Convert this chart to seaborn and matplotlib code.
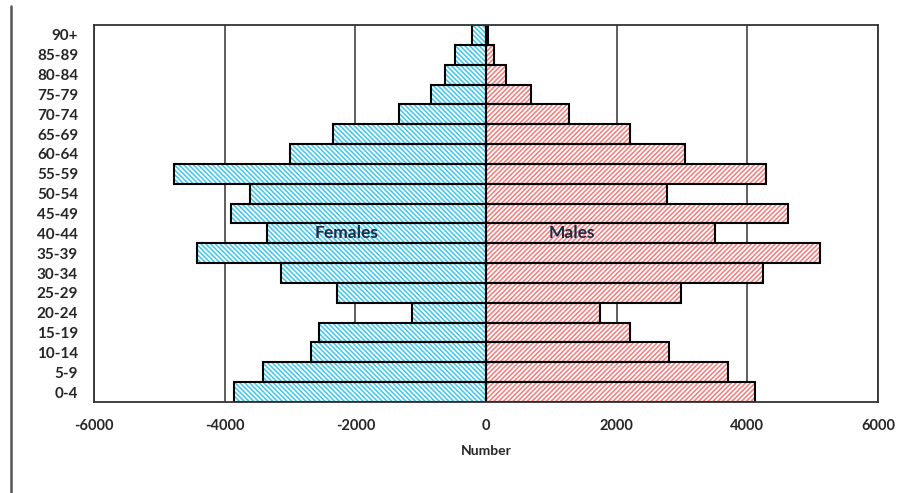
import pandas as pd
import numpy as np
import matplotlib.pyplot as plt
import seaborn as sns

ages = ["0-4", "5-9", "10-14", "15-19", "20-24", "25-29", "30-34", "35-39",
        "40-44", "45-49", "50-54", "55-59", "60-64", "65-69", "70-74",
        "75-79", "80-84", "85-89", "90+"]
females = [3856, 3407, 2673, 2561, 1128, 2281, 3142, 4427, 3346, 3896,
           3612, 4778, 2994, 2342, 1333, 849, 635, 471, 211]
males = [4111, 3698, 2796, 2210, 1746, 2984, 4233, 5115, 3499, 4625,
         2778, 4292, 3043, 2202, 1274, 683, 306, 127, 30]
xticks = [-6000, -4000, -2000, 0, 2000, 4000, 6000]

df_f = pd.DataFrame({"age": ages, "count": [-v for v in females]})
df_m = pd.DataFrame({"age": ages, "count": males})
order = ages[::-1]

sns.set_style("white")
plt.rcParams["font.family"] = ["Lato", "DejaVu Sans"]
plt.rcParams["hatch.linewidth"] = 1.1

fig = plt.figure(figsize=(8.98, 4.93), dpi=100)
ax = fig.add_axes([0.1047, 0.1846, 0.8730, 0.7647])

# hatch layers (edge colour sets hatch colour, edge itself hidden)
sns.barplot(data=df_f, x="count", y="age", order=order, orient="h", ax=ax,
            color="white", saturation=1, width=1, errorbar=None,
            edgecolor="#3cc8f0", linewidth=0, hatch="\\" * 7)
sns.barplot(data=df_m, x="count", y="age", order=order, orient="h", ax=ax,
            color="white", saturation=1, width=1, errorbar=None,
            edgecolor="#f77b7b", linewidth=0, hatch="/" * 7)
# black outlines
for d in (df_f, df_m):
    sns.barplot(data=d, x="count", y="age", order=order, orient="h", ax=ax,
                color="black", fill=False, saturation=1, width=1,
                errorbar=None, linewidth=1.5)

ax.set_xlim(-6000, 6000)
ax.set_xticks(xticks)
ax.set_xticklabels([str(t) for t in xticks])
ax.set_axisbelow(True)
ax.grid(axis="x", color="#333333", linewidth=1.1)
ax.grid(axis="y", visible=False)
for s in ax.spines.values():
    s.set_visible(True)
    s.set_color("#333333")
    s.set_linewidth(1.3)
ax.tick_params(axis="x", direction="out", length=4, width=1, color="#333333",
               labelsize=10.5, pad=8)
ax.tick_params(axis="y", length=0, labelsize=11, pad=11.5)
for lab in ax.get_xticklabels() + ax.get_yticklabels():
    lab.set_fontweight("bold")
ax.set_xlabel("Number", fontsize=10, fontweight="bold", labelpad=9)
ax.set_ylabel("")

ax.text(-2130, order.index("40-44"), "Females", ha="center", va="center",
        fontsize=12.5, fontweight="bold", color="#1f2a44")
ax.text(1320, order.index("40-44"), "Males", ha="center", va="center",
        fontsize=12.5, fontweight="bold", color="#1f2a44")

fig.add_artist(plt.Line2D([0.0125, 0.0125], [0.0, 0.988], color="#555555",
                          linewidth=1.8, transform=fig.transFigure))

fig.savefig("out.png", dpi=100)
